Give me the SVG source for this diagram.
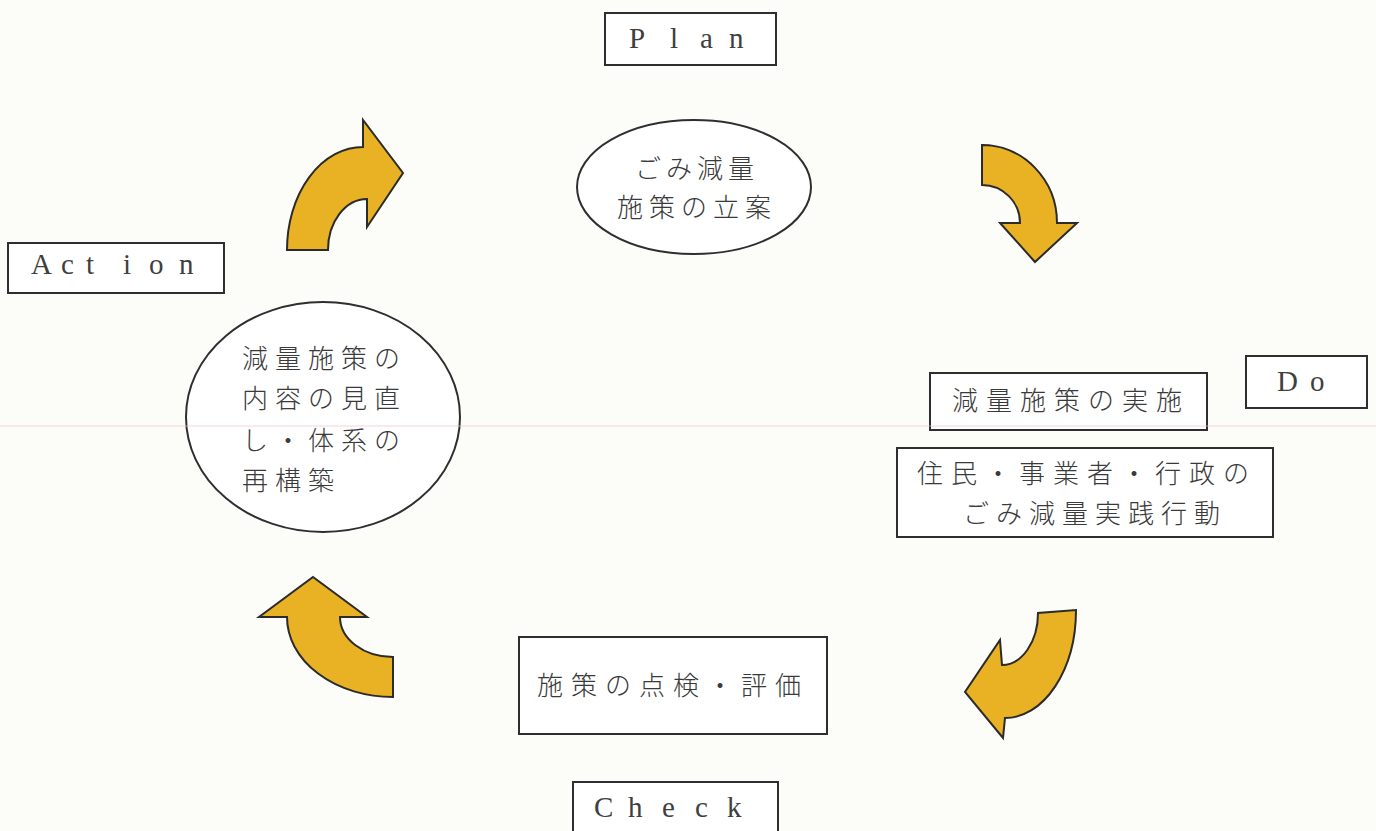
<svg xmlns="http://www.w3.org/2000/svg" width="1376" height="831" viewBox="0 0 1376 831">
<style>
.bg{fill:#fcfcf9}
.box{fill:#ffffff;stroke:#2e2e2e;stroke-width:2}
.ell{fill:#ffffff;stroke:#2e2e2e;stroke-width:2}
.lat{font-family:"Liberation Serif",serif;font-size:29px;fill:#3f3f3f}
.jp{font-family:"Noto Sans CJK JP",sans-serif;font-size:26px;font-weight:300;fill:#3a3a3a}
.arr{fill:#e8b224;stroke:#2b2b2b;stroke-width:2;stroke-linejoin:miter}
</style>
<rect class="bg" x="0" y="0" width="1376" height="831"/>

<g id="connectors">
  <path id="arrow-action-plan" class="arr" d="M287,250 L328,250 A39 51 0 0 1 367,199 L367,227 L403,173 L363,120 L363,147 A76 103 0 0 0 287,250 Z"/>
  <path id="arrow-plan-do" class="arr" d="M982,145 A75 78 0 0 1 1057,223 L1077,223 L1035,262 L1000,223 L1020,223 A38 38 0 0 0 982,185 Z"/>
  <path id="arrow-do-check" class="arr" d="M1076,610 A71 108 0 0 1 1005,718 L1003,738 L965,692 L1000,640 L1002,665 A36 52 0 0 0 1038,613 Z"/>
  <path id="arrow-check-action" class="arr" d="M313,577 L367,617 L340,617 A53 40 0 0 0 393,657 L393,697 A106 80 0 0 1 287,617 L259,617 Z"/>
</g>

<g id="plan-label">
  <rect class="box" x="605" y="13" width="171" height="52"/>
  <text class="lat" x="629 670 700 729" y="48">Plan</text>
</g>

<g id="plan-node">
  <ellipse class="ell" cx="694" cy="187" rx="117" ry="67"/>
  <text class="jp" x="635" y="178" letter-spacing="5">ごみ減量</text>
  <text class="jp" x="617" y="217" letter-spacing="6">施策の立案</text>
</g>

<g id="action-label">
  <rect class="box" x="8" y="243" width="216" height="50"/>
  <text class="lat" x="31 61 86 123 149 179" y="274" font-size="27">Action</text>
</g>

<g id="action-node">
  <ellipse class="ell" cx="323" cy="417" rx="137" ry="115"/>
  <text class="jp" x="242" y="368" letter-spacing="7">減量施策の</text>
  <text class="jp" x="242" y="408" letter-spacing="7">内容の見直</text>
  <text class="jp" x="242" y="450" letter-spacing="7">し・体系の</text>
  <text class="jp" x="242" y="490" letter-spacing="7">再構築</text>
</g>

<g id="do-label">
  <rect class="box" x="1246" y="356" width="121" height="52"/>
  <text class="lat" x="1277 1310" y="391">Do</text>
</g>

<g id="do-node">
  <rect class="box" x="930" y="373" width="277" height="57"/>
  <text class="jp" x="952" y="410" letter-spacing="8">減量施策の実施</text>
</g>

<g id="do-action-node">
  <rect class="box" x="897" y="448" width="376" height="89"/>
  <text class="jp" x="917" y="483" letter-spacing="8">住民・事業者・行政の</text>
  <text class="jp" x="963" y="523" letter-spacing="7">ごみ減量実践行動</text>
</g>

<g id="check-node">
  <rect class="box" x="519" y="637" width="308" height="97"/>
  <text class="jp" x="537" y="695" letter-spacing="8">施策の点検・評価</text>
</g>

<g id="check-label">
  <rect class="box" x="573" y="782" width="205" height="60"/>
  <text class="lat" x="594 628 662 695 727" y="817">Check</text>
</g>

<line x1="0" y1="426" x2="1376" y2="426" stroke="#f0c4cf" stroke-width="1" opacity="0.7"/>
</svg>
